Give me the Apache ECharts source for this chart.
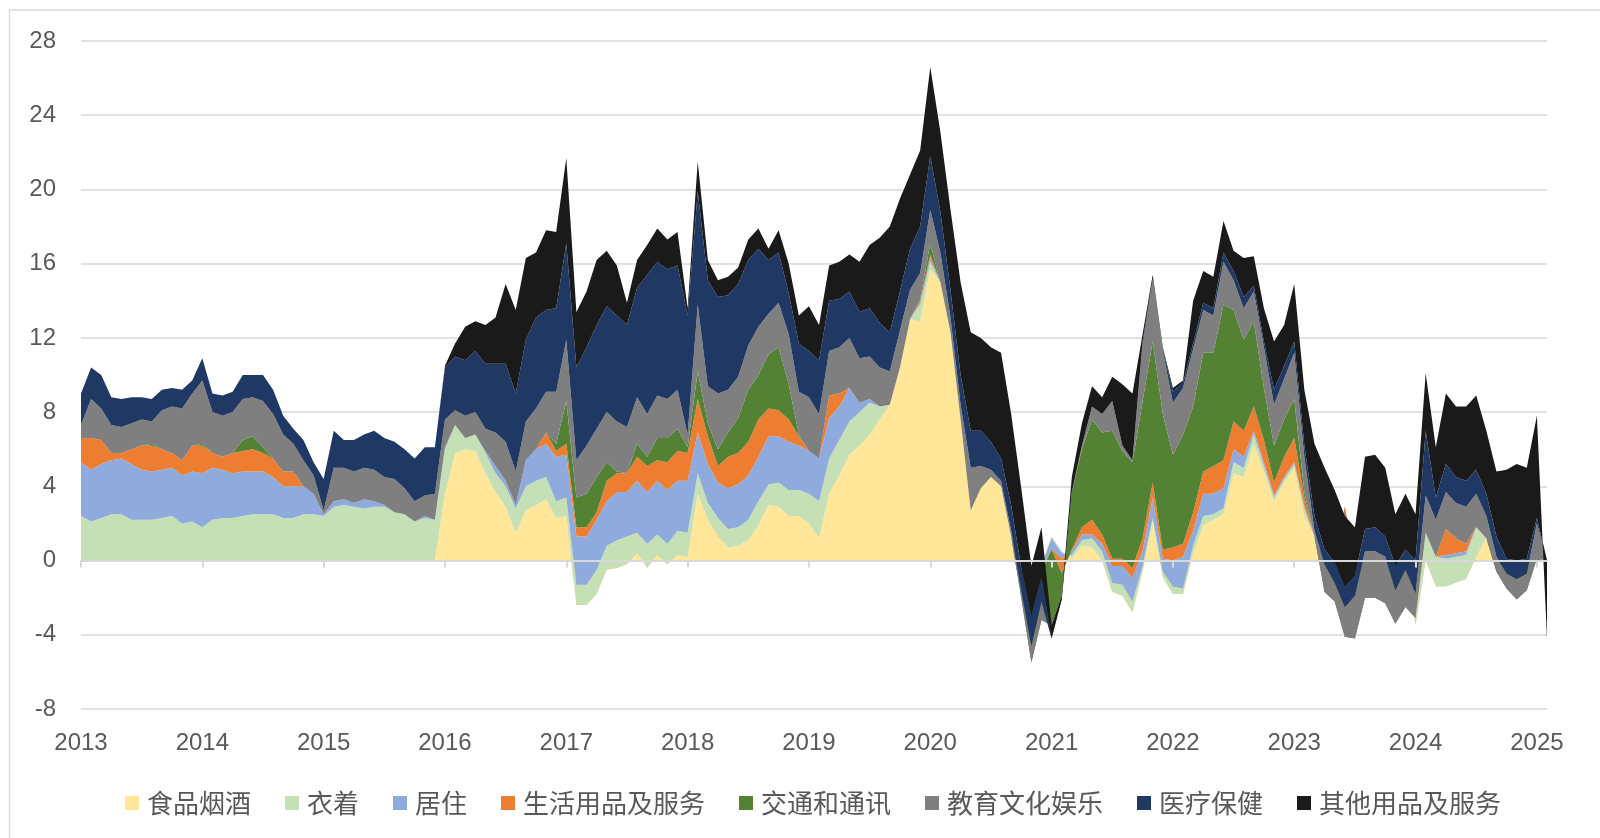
<!DOCTYPE html>
<html>
<head>
<meta charset="utf-8">
<script src="https://cdn.jsdelivr.net/npm/echarts@6/dist/echarts.min.js"></script>
<style>
html,body{margin:0;padding:0;background:#fff;}
#chart{width:1600px;height:838px;}
</style>
</head>
<body>
<div id="chart"></div>
<script>
// tick labels (years) ; monthly categories 2013-01 .. 2025-02
var yearLabels = ['2013','2014','2015','2016','2017','2018','2019','2020','2021','2022','2023','2024','2025'];
var lastMonthOfLastYear = 2;

var seriesNames = ['食品烟酒','衣着','居住','生活用品及服务','交通和通讯','教育文化娱乐','医疗保健','其他用品及服务'];

var food = [
0,0,0,0,0,0,0,0,0,0,0,0,
0,0,0,0,0,0,0,0,0,0,0,0,
0,0,0,0,0,0,0,0,0,0,0,0,
3.6,5.8,6.0,5.9,4.7,3.7,2.9,1.5,2.7,3.0,3.3,2.3,
2.4,-2.4,-2.4,-1.8,-0.5,-0.4,-0.2,0.4,-0.4,0.3,-0.2,0.3,
0.2,3.6,2.2,1.3,0.7,0.8,1.1,1.9,3.0,2.9,2.4,2.4,
2.0,1.2,3.6,4.6,5.7,6.2,6.8,7.6,8.4,10.4,13.0,12.9,
15.7,15.0,12.3,7.6,2.7,3.9,4.5,4.0,1.3,-0.2,-0.2,-0.2,
1.3,0.5,0.1,0.8,0.7,0.0,-1.7,-1.9,-2.8,-0.6,2.1,-0.9,
-1.8,-1.8,0.4,1.9,2.2,2.5,4.7,4.5,6.3,4.8,3.2,4.2,
5.0,2.4,1.3,0,0,0.5,0,0,0,0,0,0,
-3.5,0,-1.4,-1.4,-1.2,-1.0,0.2,1.2,0,0,0,0,
0,0];

var clothing = [
2.4,2.1,2.3,2.5,2.5,2.2,2.2,2.2,2.3,2.4,2.0,2.1,
1.8,2.2,2.3,2.3,2.4,2.5,2.5,2.5,2.3,2.3,2.5,2.5,
2.4,2.9,3.0,2.9,2.8,2.9,2.9,2.6,2.5,2.1,2.3,2.2,
2.4,1.5,0.6,0.9,1.1,1.0,1.1,1.3,1.3,1.3,1.2,0.9,
1.0,1.1,1.1,1.3,1.3,1.5,1.5,1.1,1.3,1.1,1.1,1.3,
1.3,1.1,0.9,1.0,1.0,1.0,1.1,1.3,1.1,1.3,1.4,1.4,
1.6,2.0,1.9,1.9,1.8,1.8,1.7,0.7,0,0,0,0.9,
0.4,0,0,0,0,0,0,0,0,-0.1,-0.1,-0.1,
-0.1,-0.1,0.2,0.3,0.5,0.5,0.5,0.6,0.6,0.3,0.2,0.3,
0.4,0.3,0.4,0.5,0.3,0.3,0.6,0.5,0.5,0.3,0.2,0.2,
0.2,0.4,0,0,0,0.5,0,0,0,0,0,0,
0.4,1.5,1.6,1.5,1.4,1.3,1.6,0,0,0,0,0,
0,0];

var housing = [
2.9,2.8,2.9,2.9,3.0,3.0,2.7,2.6,2.6,2.6,2.6,2.7,
2.9,2.8,2.6,2.4,2.4,2.3,2.3,2.0,1.7,1.7,1.5,1.1,
0.1,0.3,0.3,0.2,0.5,0.3,0.1,0,0,0,0.1,0,
0.1,0,0,0,0.1,0.4,0.3,0.2,1.4,1.7,1.8,2.4,
2.3,2.6,2.6,2.7,2.4,2.6,2.4,2.8,2.8,2.9,2.9,2.7,
2.8,2.2,2.1,1.9,2.2,2.3,2.4,2.4,2.6,2.5,2.6,2.4,
2.3,2.3,2.2,1.8,1.8,0.5,0.2,0,0,0,0,0.1,
0.2,0,0,0,0,0,0,0,0,-0.1,-0.3,-0.2,
-0.6,-0.3,0.2,0.3,0.2,0.4,0.9,1.0,1.3,0.8,1.1,0.7,
1.4,1.7,0.8,1.2,1.1,1.1,0.7,0.6,0.2,0.2,0.1,0.1,
0.1,0.1,0,0,0,1.9,0,0,0,0,0,0,
0,0,0,0.2,0.2,0.2,0,0,0,0,0,0,
0,0];

var dailyGoods = [
1.3,1.7,1.3,0.4,0.3,0.8,1.3,1.4,1.1,0.8,0.8,1.4,
1.5,0.8,0.7,1.1,1.1,1.2,1.0,1.0,0.8,0.8,0,0,
0,0,0,0,0,0,0,0,0,0,0,0,
0,0,0,0,0,0,0,0,0,0,0.6,0.3,
0.6,0.5,0.5,0.4,1.1,1.0,1.0,1.3,1.4,1.1,1.5,1.6,
1.5,1.8,1.5,0.9,1.7,1.7,1.8,2.0,1.5,1.4,1.2,0.5,
0,0,1.2,0.7,0,0,0,0,0,0,0,0.1,
0.2,0,0,0,0,0,0,0,0,-0.1,-0.1,-0.1,
0,-0.8,0.1,0.4,0.8,0.5,0.4,0.4,0.5,0.7,0.8,0.5,
0.7,0.7,1.0,1.2,1.5,1.5,1.5,1.4,1.3,1.2,0.7,1.1,
1.3,0.5,0,0,0,-0.3,0,0,0,0,0,0,
0,0,0,1.4,0.8,0.4,0,0,0,0,0,0,
0,0];

var transport = [
0,0,0,0,0,0,0,0.1,0,0,0,0,
0.1,0,0,0,0.6,0.7,0.3,0,0,0,0,0,
0,0,0,0,0,0,0,0,0,0,0,0,
0,0,0,0,0,0,0,0,0,0,0,0.4,
2.3,1.6,1.8,1.9,1.0,0.1,0,0.7,0.5,1.2,1.3,1.2,
0.3,1.5,0.7,0.9,1.3,1.9,2.8,2.4,2.9,3.4,1.9,0.1,
0,0,0,0,0,0,0,0,0,0,0,0.1,
0.6,0,0,0,0,0,0,0,0,-1.5,-4.8,-2.6,
-4.1,-1.2,3.1,4.2,5.4,5.5,6.9,5.8,5.7,7.4,7.6,7.3,
5.0,5.9,5.7,6.4,6.1,8.4,6.0,4.9,4.6,2.8,2.0,2.0,
2.1,0.3,0,-1.7,-2.2,-6.7,-4.2,-2.0,-2.0,-2.3,-3.4,-2.5,
0,0,0,0,0,0,0,0,-0.6,-1.5,-2.1,-1.6,
0.1,0];

var education = [
0.7,2.1,1.7,1.5,1.4,1.4,1.4,1.2,2.1,2.5,2.8,2.8,
3.4,2.2,2.2,2.2,2.2,2.1,2.5,2.4,2.0,1.5,1.4,1.0,
0.2,1.8,1.7,1.7,1.7,1.7,1.5,1.8,1.4,1.1,1.1,1.4,
1.5,0.8,1.2,1.2,1.2,1.8,2.1,1.8,2.1,2.2,2.2,2.8,
3.3,2.0,2.6,2.6,2.7,2.7,2.5,2.5,2.3,2.3,2.1,2.1,
0.7,3.6,2.0,3.0,2.3,2.2,2.4,2.6,2.2,2.4,2.7,2.3,
2.9,2.4,2.4,2.5,2.7,2.4,2.3,2.1,1.8,2.0,1.6,1.4,
1.8,1.6,0.8,0.8,2.3,1.2,0.4,0.3,0.3,0.4,0.9,1.0,
-0.7,-0.2,0,0.2,0.7,1.0,1.6,0.3,0.1,3.0,3.3,3.4,
2.8,2.5,3.1,2.3,2.0,2.3,1.6,1.7,1.6,2.2,2.2,2.2,
2.5,1.9,0.3,1.5,1.0,1.6,2.3,2.5,2.5,2.5,1.8,2.0,
1.3,2.0,2.0,2.0,1.9,2.0,1.8,1.2,0.8,0.8,1.1,0.9,
1.9,0];

var medical = [
1.7,1.7,1.8,1.5,1.5,1.4,1.2,1.2,1.1,1.0,1.0,0.7,
1.2,1.0,1.1,1.1,1.3,1.2,1.4,1.3,1.0,0.8,1.1,0.7,
1.7,2.0,1.5,1.7,1.8,2.1,2.1,2.0,2.1,2.3,2.6,2.5,
2.8,2.9,3.0,3.3,3.5,3.7,4.2,4.2,4.4,4.9,4.4,4.5,
5.2,5.0,5.3,5.6,5.7,5.7,5.5,5.9,7.5,7.2,7.0,6.7,
6.4,6.1,5.7,5.2,5.1,5.0,4.6,4.2,2.9,2.7,2.2,2.6,
2.5,2.9,2.7,2.6,2.5,2.5,2.6,2.4,2.1,2.1,2.2,2.5,
2.9,2.2,1.5,1.6,2.0,1.9,1.5,1.2,1.4,1.2,1.6,1.3,
0,0,0,0,0,0,0,0,0,0.2,0.1,0.1,
0.6,0.3,0.3,0.4,0.4,0.5,0.5,0.6,0.3,0.3,0.8,0.7,
0.6,0.6,0.8,0.8,1.1,1.1,1.1,1.2,1.3,1.1,1.3,1.1,
1.8,3.5,1.2,1.5,1.4,1.4,1.3,1.2,1.1,0.8,1.0,0.8,
0.3,0];

var others = [
0,0,0,0,0,0,0,0,0,0,0,0,
0,0,0,0,0,0,0,0,0,0,0,0,
0,0,0,0,0,0,0,0,0,0,0,0,
0.1,0.7,1.8,1.6,2.1,2.5,4.3,4.5,4.4,3.5,4.3,4.1,
4.6,3.0,3.0,3.5,3.0,2.7,1.2,1.5,1.6,1.8,1.6,1.8,
0.4,1.6,1.1,0.9,1.0,0.9,1.1,1.1,0.6,1.2,1.6,1.5,
2.4,1.9,1.9,2.0,2.0,2.7,3.4,4.6,5.7,5.0,4.0,4.1,
4.8,4.3,4.3,5.0,5.3,5.0,5.1,5.7,4.9,4.3,2.7,2.7,
0.7,0.2,0.8,1.2,1.1,0.9,1.3,3.3,3.6,0.4,0.2,0.1,
0.2,0.1,2.3,1.7,1.7,1.7,1.1,2.1,1.6,1.8,2.6,2.2,
3.1,3.0,3.9,4.4,3.9,3.8,2.6,3.9,3.9,3.7,2.8,3.0,
2.5,3.1,2.7,3.8,3.8,4.0,4.0,3.4,3.5,4.8,5.2,4.9,
5.5,-4.2];

var colors = ['#FFE699','#C5E0B4','#8FAADC','#ED7D31','#548235','#7F7F7F','#203864','#1A1A1A'];

// build monthly category list from the year tick labels
var categories = [];
yearLabels.forEach(function (y, yi) {
  var nMonths = (yi === yearLabels.length - 1) ? lastMonthOfLastYear : 12;
  for (var m = 1; m <= nMonths; m++) {
    categories.push(y + '-' + (m < 10 ? '0' + m : m));
  }
});

var dataSets = [food, clothing, housing, dailyGoods, transport, education, medical, others];

var series = dataSets.map(function (d, k) {
  return {
    name: seriesNames[k],
    type: 'line',
    stack: 'total',
    stackStrategy: 'all',
    data: d,
    showSymbol: false,
    symbol: 'none',
    lineStyle: { width: 0, color: colors[k] },
    itemStyle: { color: colors[k] },
    areaStyle: { color: colors[k], opacity: 1 },
    emphasis: { disabled: true },
    xAxisIndex: 0,
    yAxisIndex: 0
  };
});

var chart = echarts.init(document.getElementById('chart'), null, { renderer: 'canvas' });
var axisFont = 'Liberation Sans, Arial, sans-serif';
chart.setOption({
  animation: false,
  backgroundColor: '#ffffff',
  graphic: [{
    type: 'rect',
    shape: { x: 9.5, y: 10, width: 1620, height: 900 },
    style: { fill: 'none', stroke: '#d9d9d9', lineWidth: 1.5 },
    silent: true,
    z: -10
  }],
  grid: { left: 81, right: 53, top: 41, bottom: 129, containLabel: false },
  legend: {
    data: seriesNames,
    left: 120,
    top: 785,
    icon: 'rect',
    itemWidth: 14,
    itemHeight: 14,
    itemGap: 34,
    textStyle: { fontSize: 26, color: '#595959', fontFamily: 'Noto Sans CJK SC', padding: [0, 0, 0, 3] }
  },
  xAxis: [{
    type: 'category',
    data: categories,
    boundaryGap: false,
    position: 'bottom',
    axisLine: { show: false, onZero: false },
    axisTick: { show: false },
    splitLine: { show: false },
    axisLabel: {
      interval: 11,
      margin: 22,
      fontSize: 24,
      color: '#595959',
      fontFamily: axisFont,
      formatter: function (v) { return v.slice(0, 4); }
    }
  }, {
    type: 'category',
    data: categories,
    boundaryGap: false,
    position: 'bottom',
    z: 10,
    axisLine: { show: true, onZero: true, lineStyle: { color: '#d9d9d9', width: 2 } },
    axisTick: { show: true, interval: 11, length: 7, lineStyle: { color: '#d9d9d9', width: 2 } },
    axisLabel: { show: false },
    splitLine: { show: false }
  }],
  yAxis: {
    type: 'value',
    min: -8,
    max: 28,
    interval: 4,
    axisLine: { show: false },
    axisTick: { show: false },
    axisLabel: { fontSize: 24, color: '#595959', margin: 25, fontFamily: axisFont },
    splitLine: { lineStyle: { color: '#d9d9d9', width: 1.5 } }
  },
  series: series
});
</script>
</body>
</html>
